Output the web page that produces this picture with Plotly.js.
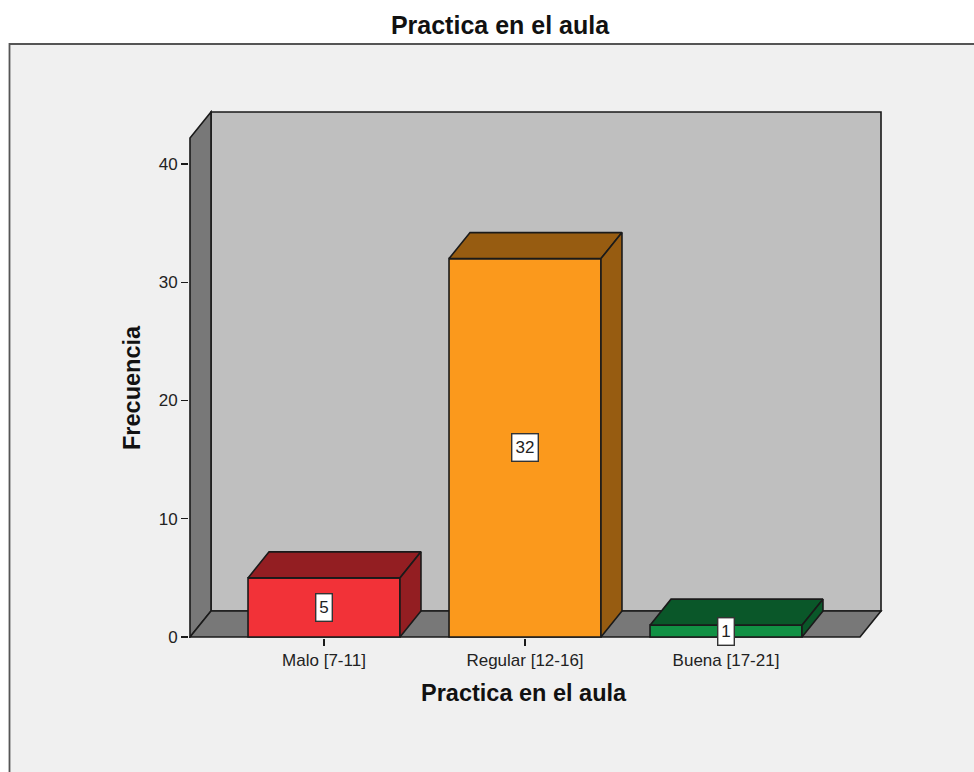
<!DOCTYPE html>
<html>
<head>
<meta charset="utf-8">
<script src="https://cdn.plot.ly/plotly-3.0.1.min.js"></script>
<style>html,body{margin:0;padding:0;background:#fff;overflow:hidden}</style>
</head>
<body>
<div id="chart" style="width:974px;height:772px"></div>
<script>
const categories = ["Malo [7-11]", "Regular [12-16]", "Buena [17-21]"];
const positions = [0, 1, 2];
const frequencies = [5, 32, 1];
const frontColors = ["#f23238", "#fb991c", "#119144"];
const shadeColors = ["#931e22", "#975c11", "#0a5729"];
const yTickValues = [0, 10, 20, 30, 40];

const W = 974, H = 772;
const M = {l: 189, r: 90, t: 110, b: 134};
const barWidth = 0.756, depthX = 0.1045, depthY = 2.2;
const floorLeft = -0.6667, floorRight = 2.6667, wallTop = 42.2;
const INK = "#1a1a1a";

const paperX = px => (px - M.l) / (W - M.l - M.r);
const paperY = py => 1 - (py - M.t) / (H - M.t - M.b);

function poly(xs, ys, fill, width) {
  const p = xs.map((x, i) => (i ? "L" : "M") + x + "," + ys[i]).join(" ") + " Z";
  return {type: "path", xref: "x", yref: "y", layer: "below", path: p,
          fillcolor: fill, line: {color: INK, width: width}};
}

const shapes = [
  {type: "rect", xref: "paper", yref: "paper", layer: "below",
   x0: paperX(9.5), x1: paperX(990), y0: paperY(44), y1: paperY(800),
   fillcolor: "#f0f0f0", line: {color: "#555555", width: 1.8}},
  poly([floorLeft + depthX, floorRight + depthX, floorRight + depthX, floorLeft + depthX],
       [depthY, depthY, wallTop + depthY, wallTop + depthY], "#bfbfbf", 1.6),
  poly([floorLeft, floorLeft + depthX, floorLeft + depthX, floorLeft],
       [0, depthY, wallTop + depthY, wallTop], "#787878", 1.6),
  poly([floorLeft, floorRight, floorRight + depthX, floorLeft + depthX],
       [0, 0, depthY, depthY], "#787878", 1.6)
];

function face(xs, ys, color) {
  return {type: "scatter", mode: "lines", x: xs, y: ys, fill: "toself", fillcolor: color,
          line: {color: INK, width: 1.6}, hoverinfo: "skip", showlegend: false};
}

const traces = [{
  type: "bar", x: positions, y: frequencies, width: barWidth,
  marker: {color: frontColors, line: {color: INK, width: 1.6}},
  hoverinfo: "skip", showlegend: false
}];
positions.forEach((c, i) => {
  const l = c - barWidth / 2, r = c + barWidth / 2, v = frequencies[i];
  traces.push(face([l, r, r + depthX, l + depthX, l], [v, v, v + depthY, v + depthY, v], shadeColors[i]));
  traces.push(face([r, r + depthX, r + depthX, r, r], [0, depthY, v + depthY, v, 0], shadeColors[i]));
});

const valueLabels = frequencies.map((v, i) => ({
  x: positions[i], y: v / 2, xref: "x", yref: "y", text: String(v), showarrow: false,
  bgcolor: "#ffffff", bordercolor: "#333333", borderwidth: 1.4,
  width: String(v).length > 1 ? 23 : 13, height: 24, valign: "middle",
  font: {family: "Liberation Sans", size: 17, color: "#222222"}
}));

const axisTitles = [
  {xref: "paper", yref: "paper", x: paperX(524), y: paperY(693), xanchor: "center", yanchor: "middle",
   showarrow: false, text: "<b>Practica en el aula</b>",
   font: {family: "Liberation Sans", size: 23.5, color: "#111111"}},
  {xref: "paper", yref: "paper", x: paperX(132), y: paperY(388), xanchor: "center", yanchor: "middle",
   showarrow: false, textangle: -90, text: "<b>Frecuencia</b>",
   font: {family: "Liberation Sans", size: 23.5, color: "#111111"}}
];

const layout = {
  width: W, height: H, margin: M, autosize: false,
  paper_bgcolor: "#ffffff", plot_bgcolor: "rgba(0,0,0,0)",
  showlegend: false, bargap: 0,
  title: {text: "<b>Practica en el aula</b>", xref: "paper", yref: "container",
          x: paperX(500), xanchor: "center", y: 1 - 25 / H, yanchor: "middle",
          font: {family: "Liberation Sans", size: 25, color: "#111111"}},
  xaxis: {type: "linear", range: [(M.l - 324) / 201, (W - M.r - 324) / 201],
          tickmode: "array", tickvals: positions, ticktext: categories,
          ticks: "outside", ticklen: 7, tickwidth: 1.2, tickcolor: INK,
          showgrid: false, zeroline: false, showline: false,
          tickfont: {family: "Liberation Sans", size: 17, color: "#222222"}},
  yaxis: {range: [-1 / 11.825, (637 - M.t) / 11.825],
          tickmode: "array", tickvals: yTickValues,
          ticks: "outside", ticklen: 7, tickwidth: 1.2, tickcolor: INK,
          showgrid: false, zeroline: false, showline: false,
          tickfont: {family: "Liberation Sans", size: 17, color: "#222222"}},
  shapes: shapes,
  annotations: valueLabels.concat(axisTitles)
};

Plotly.newPlot("chart", traces, layout, {displayModeBar: false, responsive: false, staticPlot: true});
</script>
</body>
</html>
